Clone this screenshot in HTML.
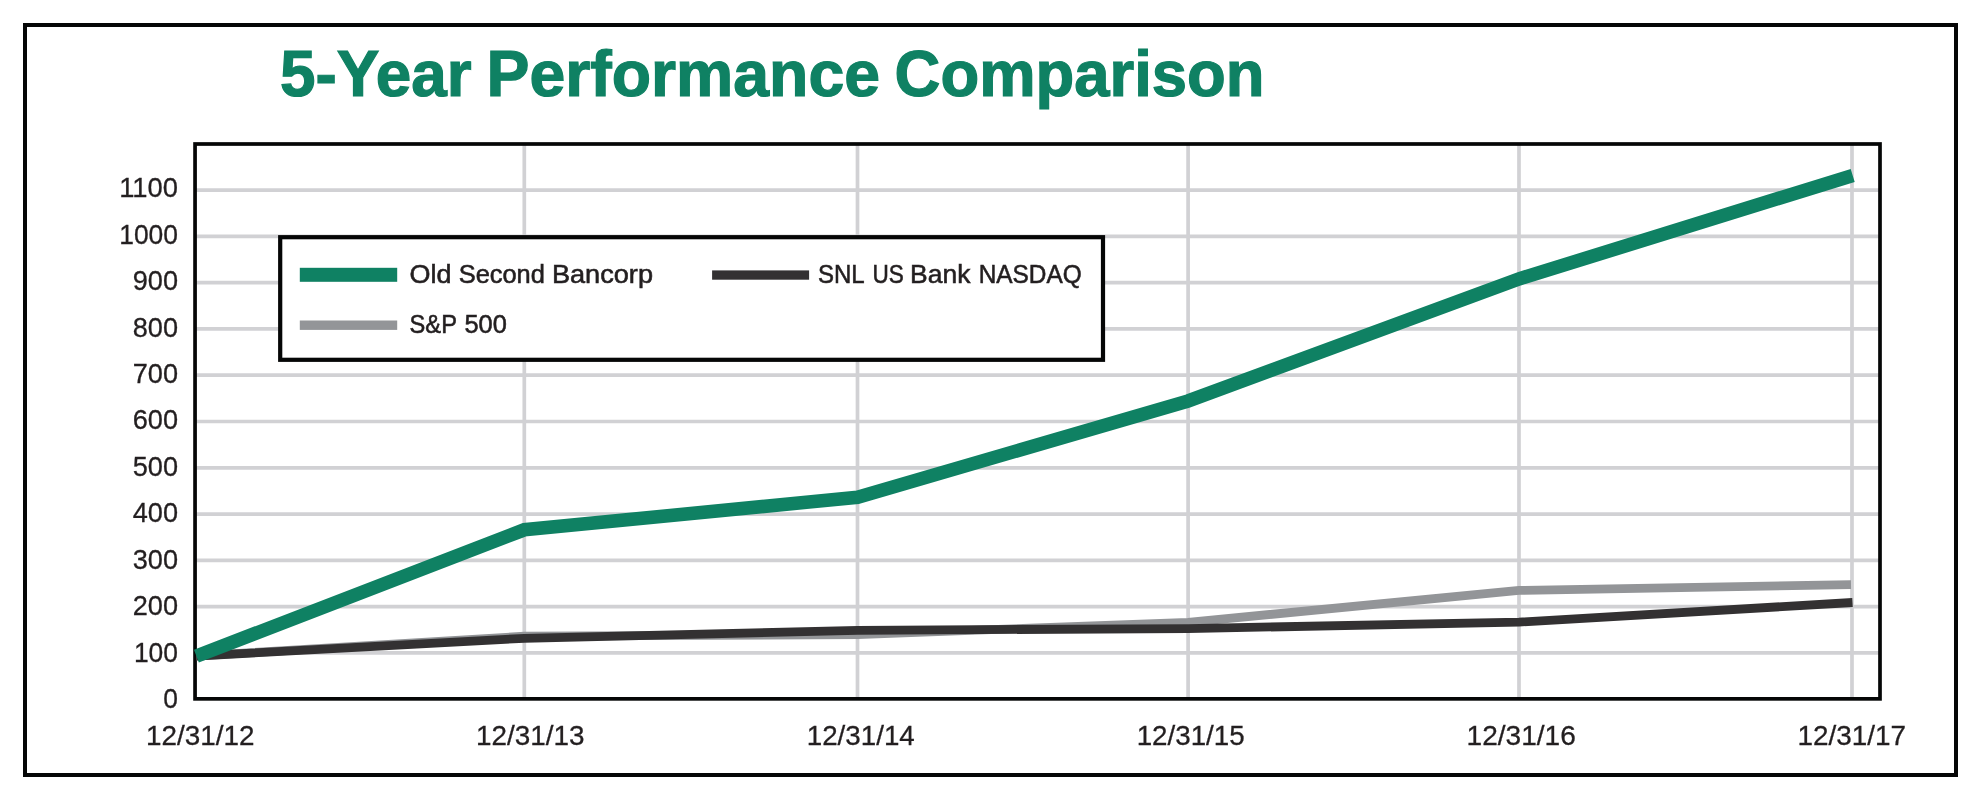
<!DOCTYPE html>
<html lang="en">
<head>
<meta charset="utf-8">
<title>5-Year Performance Comparison</title>
<style>
  html, body { margin: 0; padding: 0; background: #ffffff; }
  body { width: 1981px; height: 800px; overflow: hidden; font-family: "Liberation Sans", sans-serif; }
  svg { will-change: transform; display: block; position: absolute; left: 0; top: 0; }
  text { font-family: "Liberation Sans", sans-serif; }
  .ax { font-size: 27.6px; fill: #231f20; stroke: #231f20; stroke-width: 0.3px; }
  .lg { font-size: 24.9px; fill: #231f20; stroke: #231f20; stroke-width: 0.55px; }
  .ttl { font-size: 64.6px; font-weight: bold; fill: #0f8163; stroke: #0f8163; stroke-width: 1.2px; stroke-linejoin: miter; }
</style>
</head>
<body>
<svg width="1981" height="800" viewBox="0 0 1981 800">
  <rect x="0" y="0" width="1981" height="800" fill="#ffffff"/>

  <!-- outer frame -->
  <rect x="25" y="25" width="1931" height="750" fill="none" stroke="#050606" stroke-width="4"/>

  <!-- title -->
  <text class="ttl" y="96.2"><tspan x="280" textLength="191.6" lengthAdjust="spacingAndGlyphs">5-Year</tspan> <tspan x="486.6" textLength="393.4" lengthAdjust="spacingAndGlyphs">Performance</tspan> <tspan x="894.6" textLength="370" lengthAdjust="spacingAndGlyphs">Comparison</tspan></text>

  <!-- grid -->
  <g stroke="#d1d1d4" stroke-width="3.7" fill="none">
    <line x1="195" x2="1880" y1="652.9" y2="652.9"/>
    <line x1="195" x2="1880" y1="606.7" y2="606.7"/>
    <line x1="195" x2="1880" y1="560.4" y2="560.4"/>
    <line x1="195" x2="1880" y1="514.1" y2="514.1"/>
    <line x1="195" x2="1880" y1="467.8" y2="467.8"/>
    <line x1="195" x2="1880" y1="421.5" y2="421.5"/>
    <line x1="195" x2="1880" y1="375.1" y2="375.1"/>
    <line x1="195" x2="1880" y1="328.9" y2="328.9"/>
    <line x1="195" x2="1880" y1="282.7" y2="282.7"/>
    <line x1="195" x2="1880" y1="236.4" y2="236.4"/>
    <line x1="195" x2="1880" y1="190.1" y2="190.1"/>
    <line y1="144" y2="699" x1="524.3" x2="524.3"/>
    <line y1="144" y2="699" x1="857.5" x2="857.5"/>
    <line y1="144" y2="699" x1="1188.1" x2="1188.1"/>
    <line y1="144" y2="699" x1="1519" x2="1519"/>
    <line y1="144" y2="699" x1="1852" x2="1852"/>
  </g>

  <!-- plot frame -->
  <rect x="195.05" y="144" width="1684.95" height="554.85" fill="none" stroke="#050606" stroke-width="3.7"/>

  <!-- series -->
  <polyline fill="none" stroke="#939598" stroke-width="8.8" stroke-linejoin="miter"
            points="196.4,656 524.3,636.2 857.6,634.6 1188.1,622.4 1519,590.4 1851,584.6"/>
  <polyline fill="none" stroke="#333132" stroke-width="8.8" stroke-linejoin="miter"
            points="196.4,656 524.3,638.3 857.6,630.3 1188.1,628.6 1519,622.1 1852.5,602.5"/>
  <polyline fill="none" stroke="#0f8163" stroke-width="13.6" stroke-linejoin="miter"
            points="196.4,656.1 524.3,529.8 857.6,497.2 1188.1,401 1519,278.9 1852.7,175.4"/>

  <!-- legend -->
  <rect x="280.2" y="237.2" width="822.8" height="122.6" fill="#ffffff" stroke="#050606" stroke-width="4.2"/>
  <rect x="299.8" y="267.8" width="97.4" height="14" fill="#0f8163"/>
  <rect x="299.8" y="320.5" width="97.4" height="9.4" fill="#939598"/>
  <rect x="712.1" y="270.4" width="97" height="9.3" fill="#333132"/>

  <text class="lg" y="282.6"><tspan x="409.5" textLength="41.9" lengthAdjust="spacingAndGlyphs">Old</tspan> <tspan x="458.7" textLength="86.2" lengthAdjust="spacingAndGlyphs">Second</tspan> <tspan x="551.9" textLength="101.1" lengthAdjust="spacingAndGlyphs">Bancorp</tspan></text>
  <text class="lg" y="333"><tspan x="409.6" textLength="46.9" lengthAdjust="spacingAndGlyphs">S&amp;P</tspan> <tspan x="464.4" textLength="42.4" lengthAdjust="spacingAndGlyphs">500</tspan></text>
  <text class="lg" y="282.6"><tspan x="817.9" textLength="45.8" lengthAdjust="spacingAndGlyphs">SNL</tspan> <tspan x="872.5" textLength="31.3" lengthAdjust="spacingAndGlyphs">US</tspan> <tspan x="910.1" textLength="60.3" lengthAdjust="spacingAndGlyphs">Bank</tspan> <tspan x="978.7" textLength="103.0" lengthAdjust="spacingAndGlyphs">NASDAQ</tspan></text>

  <!-- y axis labels -->
  <g class="ax">
    <text x="119.2" y="196.9" textLength="58.8" lengthAdjust="spacingAndGlyphs">1100</text>
    <text x="119.2" y="243.8" textLength="58.8" lengthAdjust="spacingAndGlyphs">1000</text>
    <text x="132.7" y="290.3" textLength="45.3" lengthAdjust="spacingAndGlyphs">900</text>
    <text x="132.7" y="336.8" textLength="45.3" lengthAdjust="spacingAndGlyphs">800</text>
    <text x="132.7" y="383.2" textLength="45.3" lengthAdjust="spacingAndGlyphs">700</text>
    <text x="132.7" y="429.2" textLength="45.3" lengthAdjust="spacingAndGlyphs">600</text>
    <text x="132.7" y="475.6" textLength="45.3" lengthAdjust="spacingAndGlyphs">500</text>
    <text x="132.7" y="522.1" textLength="45.3" lengthAdjust="spacingAndGlyphs">400</text>
    <text x="132.7" y="568.5" textLength="45.3" lengthAdjust="spacingAndGlyphs">300</text>
    <text x="132.7" y="615.0" textLength="45.3" lengthAdjust="spacingAndGlyphs">200</text>
    <text x="133.9" y="661.8" textLength="44.1" lengthAdjust="spacingAndGlyphs">100</text>
    <text x="163.3" y="707.9" textLength="14.7" lengthAdjust="spacingAndGlyphs">0</text>
  </g>

  <!-- x axis labels -->
  <g class="ax">
    <text x="146.1" y="745" textLength="108.5" lengthAdjust="spacingAndGlyphs">12/31/12</text>
    <text x="476.0" y="745" textLength="108.5" lengthAdjust="spacingAndGlyphs">12/31/13</text>
    <text x="806.7" y="745" textLength="108.1" lengthAdjust="spacingAndGlyphs">12/31/14</text>
    <text x="1136.7" y="745" textLength="108.0" lengthAdjust="spacingAndGlyphs">12/31/15</text>
    <text x="1466.6" y="745" textLength="109.2" lengthAdjust="spacingAndGlyphs">12/31/16</text>
    <text x="1797.5" y="745" textLength="108.6" lengthAdjust="spacingAndGlyphs">12/31/17</text>
  </g>
</svg>
</body>
</html>
